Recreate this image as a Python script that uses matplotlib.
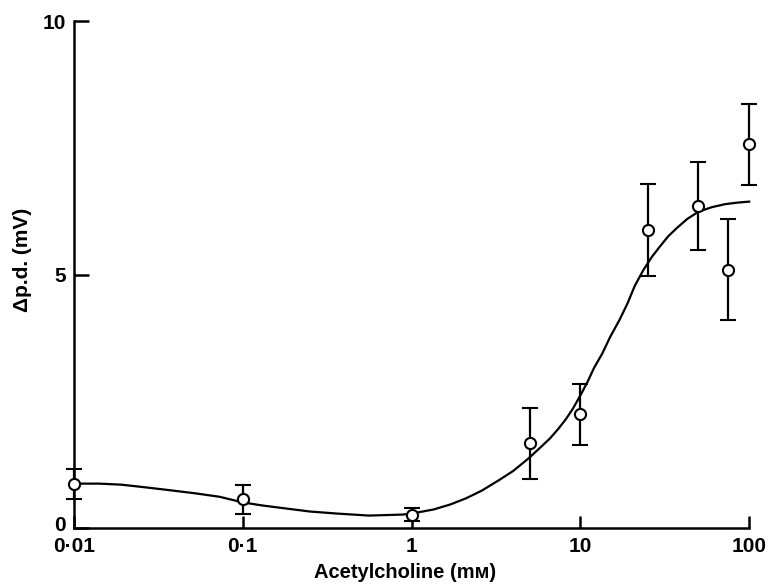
import matplotlib.pyplot as plt
import matplotlib.transforms as mtransforms

# measured points (mean +/- s.e.)
conc = [0.01, 0.1, 1, 5, 10, 25, 50, 75, 100]
dpd = [0.87, 0.57, 0.27, 1.68, 2.25, 5.88, 6.36, 5.10, 7.57]
err = [0.30, 0.29, 0.12, 0.70, 0.60, 0.90, 0.87, 1.00, 0.80]

# fitted curve
curve_x = [0.01, 0.014, 0.019, 0.026, 0.037, 0.052, 0.073, 0.1, 0.13, 0.18, 0.25,
           0.36, 0.56, 0.89, 1.0, 1.35, 1.7, 2.1, 2.6, 3.3, 4.0, 4.9, 5.7, 6.6,
           7.4, 8.2, 9.0, 10, 11, 12, 13.5, 15, 17, 19, 21, 23.6, 26.5, 29.5,
           33, 37, 43, 50, 60, 72, 85, 100]
curve_y = [0.88, 0.88, 0.86, 0.81, 0.75, 0.69, 0.62, 0.51, 0.45, 0.39, 0.33,
           0.29, 0.25, 0.27, 0.29, 0.37, 0.47, 0.59, 0.74, 0.95, 1.13, 1.37, 1.57, 1.77,
           1.96, 2.15, 2.35, 2.62, 2.88, 3.15, 3.45, 3.77, 4.10, 4.43, 4.78, 5.09, 5.35, 5.55,
           5.75, 5.91, 6.10, 6.24, 6.33, 6.39, 6.42, 6.44]

xticks = [0.01, 0.1, 1, 10, 100]
xticklabels = ['0\u00b701', '0\u00b71', '1', '10', '100']
yticks = [0, 5, 10]

plt.rcParams['font.family'] = ['Liberation Sans', 'DejaVu Sans']
plt.rcParams['font.weight'] = 'bold'

fig = plt.figure(figsize=(7.7, 5.85), dpi=100)
ax = fig.add_axes([0.096, 0.097, 0.877, 0.867])

ax.plot(curve_x, curve_y, color='black', lw=1.6, clip_on=False)
ax.errorbar(conc, dpd, yerr=err, fmt='o', color='black', mfc='white', mec='black',
            ms=8, mew=1.5, elinewidth=1.6, capsize=5.5, capthick=1.6, clip_on=False, zorder=3)

ax.set_xscale('log')
ax.set_xlim(0.01, 100)
ax.set_ylim(0, 10)
ax.set_xticks(xticks)
ax.set_xticklabels(xticklabels)
ax.minorticks_off()
ax.set_yticks(yticks)

for s in ['top', 'right']:
    ax.spines[s].set_visible(False)
for s in ['left', 'bottom']:
    ax.spines[s].set_linewidth(1.8)

ax.tick_params(direction='in', length=9, width=1.8, labelsize=15, pad=6)
ax.tick_params(axis='y', length=11)
for t in ax.get_yticklabels():
    t.set_verticalalignment('center_baseline')
# the "0" sits a little above the x axis
lab0 = ax.yaxis.get_major_ticks()[0].label1
lab0.set_transform(lab0.get_transform() + mtransforms.ScaledTranslation(0, 3.5 / 72, fig.dpi_scale_trans))

ax.set_xlabel('Acetylcholine (m\u1d0d)', fontsize=14.5, fontweight='bold')
ax.set_ylabel('\u0394p.d. (mV)', fontsize=15, fontweight='bold')
ax.xaxis.set_label_coords(0.49, -0.068)
ax.yaxis.set_label_coords(-0.062, 0.53)

fig.savefig('out.png', dpi=100)
